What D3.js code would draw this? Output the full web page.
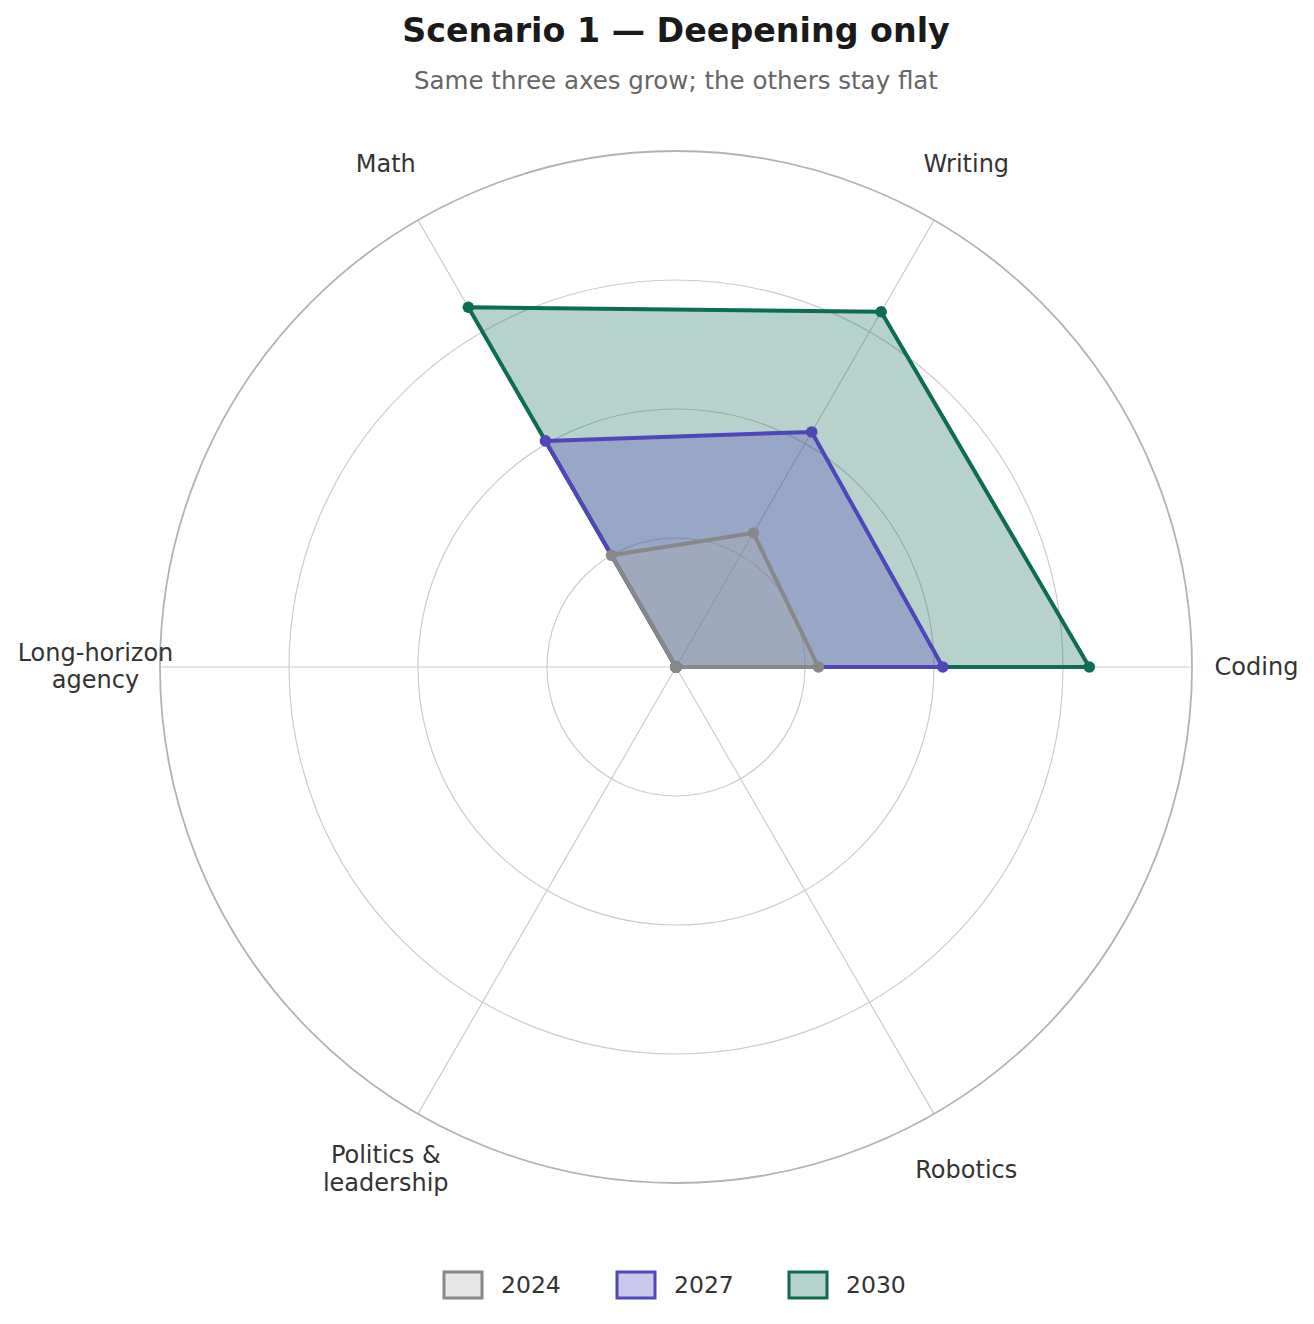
<!DOCTYPE html>
<html>
<head>
<meta charset="utf-8">
<script src="https://cdn.jsdelivr.net/npm/d3@7"></script>
<style>
  body { margin: 0; background: #fff; }
  svg { display: block; font-family: 'DejaVu Sans', sans-serif; }
</style>
</head>
<body>
<div id="chart"></div>
<script>
'use strict';

var axes = ['Coding', 'Writing', 'Math', 'Long-horizon\nagency', 'Politics &\nleadership', 'Robotics'];
var years = ['2024', '2027', '2030'];
var values2024 = [0.276, 0.30, 0.25, 0, 0, 0];
var values2027 = [0.517, 0.526, 0.506, 0, 0, 0];
var values2030 = [0.801, 0.795, 0.805, 0, 0, 0];
var gridLevels = [0.25, 0.5, 0.75, 1];

var series = [
  { year: years[0], values: values2024, stroke: '#888888', fill: '#b0b0b0' },
  { year: years[1], values: values2027, stroke: '#4f46b8', fill: '#4f46b8' },
  { year: years[2], values: values2030, stroke: '#0e6b54', fill: '#0e6b54' }
];

var width = 1314, height = 1324;
var cx = 676, cy = 667, R = 516;

var svg = d3.select('#chart')
  .append('svg')
  .attr('width', width)
  .attr('height', height);

var r = d3.scaleLinear().domain([0, 1]).range([0, R]);
var angle = d3.scaleLinear().domain([0, axes.length]).range([0, 2 * Math.PI]);

function px(i, v) { return cx + r(v) * Math.cos(angle(i)); }
function py(i, v) { return cy - r(v) * Math.sin(angle(i)); }

// title
svg.append('text')
  .attr('x', cx).attr('y', 42)
  .attr('text-anchor', 'middle')
  .style('font-size', '33.3px').style('font-weight', 'bold')
  .style('fill', '#1a1a1a')
  .text('Scenario 1 \u2014 Deepening only');

svg.append('text')
  .attr('x', cx).attr('y', 89)
  .attr('text-anchor', 'middle')
  .style('font-size', '24.5px')
  .style('fill', '#666666')
  .text('Same three axes grow; the others stay flat');

// grid
var grid = svg.append('g');
grid.selectAll('line')
  .data(axes)
  .enter()
  .append('line')
  .attr('x1', cx).attr('y1', cy)
  .attr('x2', function(d, i) { return px(i, 1); })
  .attr('y2', function(d, i) { return py(i, 1); })
  .attr('stroke', '#cccccc')
  .attr('stroke-width', 1.2);

grid.selectAll('circle')
  .data(gridLevels)
  .enter()
  .append('circle')
  .attr('cx', cx).attr('cy', cy)
  .attr('r', function(d) { return r(d); })
  .attr('fill', 'none')
  .attr('stroke', function(d) { return d === 1 ? '#b3b3b3' : '#cccccc'; })
  .attr('stroke-width', function(d) { return d === 1 ? 1.8 : 1.2; });

// axis labels
var labelR = 1.125;
var labels = svg.append('g').selectAll('text')
  .data(axes)
  .enter()
  .append('text')
  .attr('text-anchor', 'middle')
  .style('font-size', '24px')
  .style('fill', '#333333')
  .attr('transform', function(d, i) {
    var lines = d.split('\n').length;
    var y = py(i, labelR) + 8 - (lines - 1) * 14.5;
    return 'translate(' + px(i, labelR) + ',' + y + ')';
  });

labels.selectAll('tspan')
  .data(function(d) { return d.split('\n'); })
  .enter()
  .append('tspan')
  .attr('x', 0)
  .attr('dy', function(d, i) { return i === 0 ? 0 : 27.5; })
  .text(function(d) { return d; });

// series, drawn back to front
var line = d3.lineRadial()
  .angle(function(d, i) { return Math.PI / 2 - angle(i); })
  .radius(function(d) { return r(d); })
  .curve(d3.curveLinearClosed);

var order = series.slice().reverse();
var groups = svg.append('g')
  .attr('transform', 'translate(' + cx + ',' + cy + ')')
  .selectAll('g')
  .data(order)
  .enter()
  .append('g');

groups.append('path')
  .attr('d', function(d) { return line(d.values); })
  .attr('fill', function(d) { return d.fill; })
  .attr('fill-opacity', 0.3)
  .attr('stroke', function(d) { return d.stroke; })
  .attr('stroke-width', 4)
  .attr('stroke-linejoin', 'round');

groups.selectAll('circle')
  .data(function(d) { return d.values.map(function(v) { return { v: v, c: d.stroke }; }); })
  .enter()
  .append('circle')
  .attr('cx', function(d, i) { return r(d.v) * Math.cos(angle(i)); })
  .attr('cy', function(d, i) { return -r(d.v) * Math.sin(angle(i)); })
  .attr('r', 5.8)
  .attr('fill', function(d) { return d.c; });

// legend
var legendX = [444, 617, 789];
var legend = svg.append('g').selectAll('g')
  .data(series)
  .enter()
  .append('g')
  .attr('transform', function(d, i) { return 'translate(' + legendX[i] + ',1272)'; });

legend.append('rect')
  .attr('width', 38).attr('height', 26)
  .attr('fill', function(d) { return d.fill; })
  .attr('fill-opacity', 0.3)
  .attr('stroke', function(d) { return d.stroke; })
  .attr('stroke-width', 3);

legend.append('text')
  .attr('x', 57).attr('y', 21)
  .style('font-size', '23.5px')
  .style('fill', '#333333')
  .text(function(d) { return d.year; });
</script>
</body>
</html>
